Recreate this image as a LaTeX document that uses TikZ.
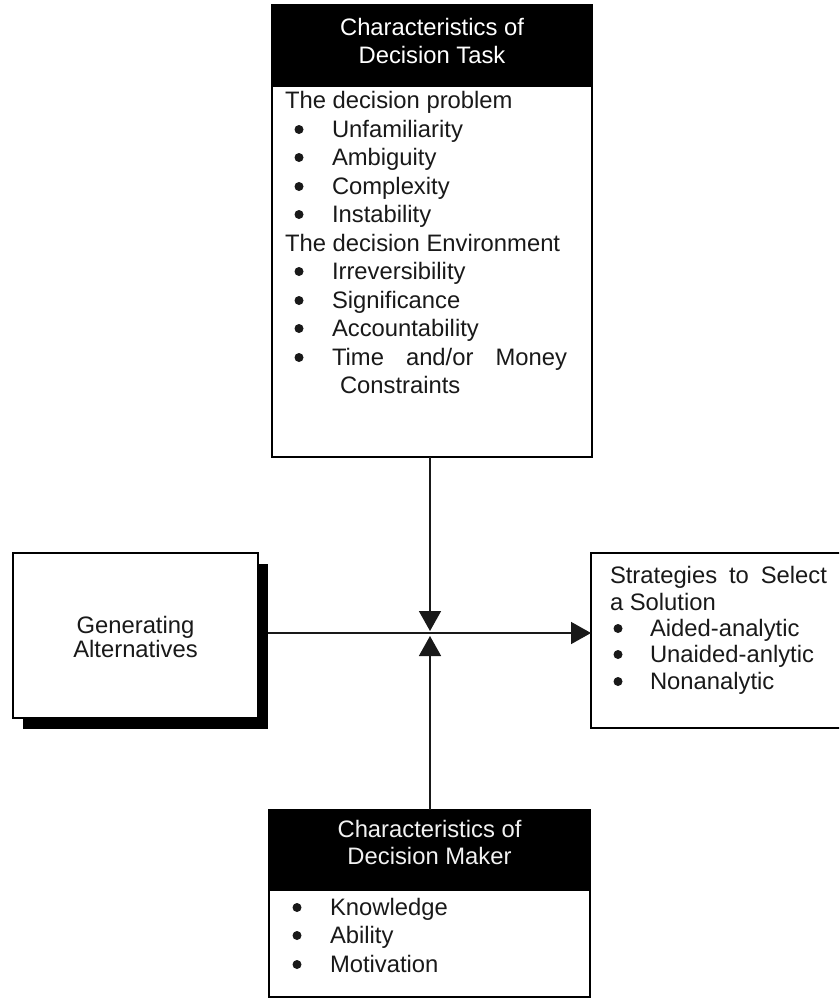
\documentclass[tikz,border=0pt]{standalone}
\usepackage{fontspec}
\setmainfont{Liberation Sans}
\usetikzlibrary{arrows.meta,shadows}
\begin{document}
\begin{tikzpicture}[x=1pt,y=-1pt,
  every node/.style={font=\fontsize{23.8}{28}\selectfont, inner sep=0pt, outer sep=0pt},
  boxframe/.style={draw=black, line width=1.6pt, fill=white, anchor=north west, inner sep=0pt},
  head/.style={draw=black, fill=black, line width=1.6pt, anchor=north west, inner sep=0pt},
  htext/.style={text=white, anchor=base},
  ltext/.style={anchor=base west, text=black!90},
  ctext/.style={anchor=base, text=black!90},
  bul/.style={circle, fill=black!90, minimum size=9pt, yshift=7.5pt},
  conn/.style={line width=1.6pt, draw=black!90},
  arr/.style={conn, -{Triangle[width=22pt,length=20pt]}}
]
\useasboundingbox (0,0) rectangle (839,999);
\clip (0,0) rectangle (839,999);
\fill[white] (0,0) rectangle (839,999);

% coordinates for the junction
\coordinate (jh) at (430,633);
\coordinate (jt) at (430,631);
\coordinate (jb) at (430,636);

% Decision task box
\node[boxframe, minimum width=320pt, minimum height=452pt] (task) at (272,5) {};
\node[head, minimum width=320pt, minimum height=81pt] (taskh) at (272,5) {};
\node[htext] (th1) at (432,35) {Characteristics of};
\node[htext] (th2) at (432,63) {Decision Task};
\node[ltext] (tp) at (285,108) {The decision problem};
\foreach \t/\y [count=\i] in {Unfamiliarity/137, Ambiguity/165, Complexity/194, Instability/222}
  {\node[bul] (tpb\i) at (299,\y) {};
   \node[ltext] (tpt\i) at (332,\y) {\t};}
\node[ltext] (te) at (285,251) {The decision Environment};
\foreach \t/\y [count=\i] in {Irreversibility/279, Significance/308, Accountability/336}
  {\node[bul] (teb\i) at (299,\y) {};
   \node[ltext] (tet\i) at (332,\y) {\t};}
\node[bul] (teb4) at (299,365) {};
\node[ltext] (tet4) at (332,365) {\makebox[235pt][s]{Time and/or Money}};
\node[ltext] (tet5) at (340,393) {Constraints};

% Generating alternatives box
\node[boxframe, minimum width=245pt, minimum height=165pt,
      drop shadow={shadow xshift=10pt, shadow yshift=-11pt, fill=black, opacity=1}] (gen) at (13,553) {};
\node[ctext] (g1) at (135.5,633) {Generating};
\node[ctext] (g2) at (135.5,657) {Alternatives};

% Strategies box
\node[boxframe, minimum width=270pt, minimum height=175pt] (strat) at (591,553) {};
\node[ltext] (s1) at (610,583) {\makebox[217pt][s]{Strategies to Select}};
\node[ltext] (s2) at (610,610) {a Solution};
\foreach \t/\y [count=\i] in {Aided-analytic/636, Unaided-anlytic/662, Nonanalytic/689}
  {\node[bul] (sb\i) at (618,\y) {};
   \node[ltext] (st\i) at (650,\y) {\t};}

% Decision maker box
\node[boxframe, minimum width=321pt, minimum height=187pt] (maker) at (269,810) {};
\node[head, minimum width=321pt, minimum height=80pt] (makerh) at (269,810) {};
\node[htext, text=black!5] (mh1) at (429.5,837) {Characteristics of};
\node[htext, text=black!5] (mh2) at (429.5,864) {Decision Maker};
\foreach \t/\y [count=\i] in {Knowledge/915, Ability/943, Motivation/972}
  {\node[bul] (mb\i) at (297,\y) {};
   \node[ltext] (mt\i) at (330,\y) {\t};}

% connectors
\draw[conn] ([xshift=10pt]gen.east |- jh) -- (jh);
\draw[arr] (jh) -- (strat.west |- jh);
\draw[arr] (task.south -| jt) -- (jt);
\draw[arr] (makerh.north -| jb) -- (jb);
\end{tikzpicture}
\end{document}
